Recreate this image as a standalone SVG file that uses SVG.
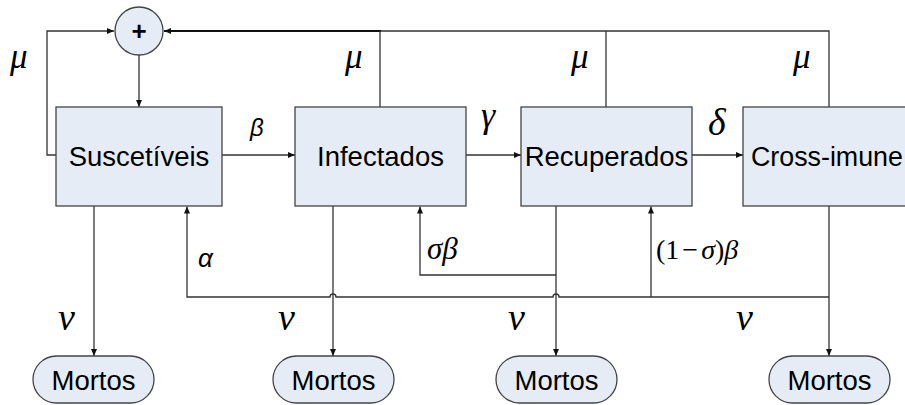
<svg xmlns="http://www.w3.org/2000/svg" width="905" height="405" viewBox="0 0 905 405">
<defs>
<marker id="ah" markerUnits="userSpaceOnUse" markerWidth="8" markerHeight="8" refX="7" refY="3" orient="auto">
<path d="M0,0 L7,3 L0,6 z" fill="#111"/>
</marker>
<style>
.box{fill:#E6ECF6;stroke:#444;stroke-width:1.3}
.lbl{font-family:"Liberation Sans",Arial,sans-serif;font-size:27.5px;fill:#000}
.mt{font-family:"Liberation Serif","Times New Roman",serif;font-style:italic;fill:#000}
.up{font-style:normal}
.sg{font-family:"Liberation Sans",Arial,sans-serif;font-style:italic;fill:#000}
.ln{fill:none;stroke:#333;stroke-width:1.3}
</style>
</defs>
<rect width="905" height="405" fill="#fff"/>
<g id="connectors">
<path class="ln" d="M56 155 H47 V31 H114" marker-end="url(#ah)"/>
<path class="ln" d="M139 55 V107" marker-end="url(#ah)"/>
<path class="ln" d="M829 107 V31 H380" />
<path fill="none" stroke="#111" stroke-width="2" d="M381 31 H164" marker-end="url(#ah)"/>
<path class="ln" d="M380 107 V31"/>
<path class="ln" d="M606 107 V31"/>
<path class="ln" d="M222 155 H295" marker-end="url(#ah)"/>
<path class="ln" d="M466 155 H521" marker-end="url(#ah)"/>
<path class="ln" d="M692 155 H743" marker-end="url(#ah)"/>
<path class="ln" d="M94 206 V356" marker-end="url(#ah)"/>
<path class="ln" d="M333 206 V356" marker-end="url(#ah)"/>
<path class="ln" d="M556 206 V356" marker-end="url(#ah)"/>
<path class="ln" d="M829 206 V356" marker-end="url(#ah)"/>
<path class="ln" d="M829 297 H559 A3 3 0 0 0 553 297 H336 A3 3 0 0 0 330 297 H187 V206.5" marker-end="url(#ah)"/>
<path class="ln" d="M651 297 V206.5" marker-end="url(#ah)"/>
<path class="ln" d="M556 275 H420 V206.5" marker-end="url(#ah)"/>
</g>
<g id="sum">
<circle cx="139" cy="31" r="24" class="box"/>
<text x="139" y="40" text-anchor="middle" font-family="Liberation Sans,Arial,sans-serif" font-weight="bold" font-size="26">+</text>
</g>
<g id="suscetiveis">
<rect x="56" y="107" width="166" height="99" class="box"/>
<text x="139" y="166" text-anchor="middle" class="lbl">Suscetíveis</text>
</g>
<g id="infectados">
<rect x="295" y="107" width="171" height="99" class="box"/>
<text x="380.5" y="166" text-anchor="middle" class="lbl">Infectados</text>
</g>
<g id="recuperados">
<rect x="521" y="107" width="171" height="99" class="box"/>
<text x="606.5" y="166" text-anchor="middle" class="lbl">Recuperados</text>
</g>
<g id="crossimune">
<rect x="743" y="107" width="175" height="99" class="box"/>
<text x="751" y="166" class="lbl" style="font-size:26.8px">Cross-imune</text>
</g>
<g id="mortos1">
<rect x="33" y="356" width="121" height="47" rx="23.5" class="box"/>
<text x="93.5" y="390" text-anchor="middle" class="lbl">Mortos</text>
</g>
<g id="mortos2">
<rect x="273" y="356" width="121" height="47" rx="23.5" class="box"/>
<text x="333.5" y="390" text-anchor="middle" class="lbl">Mortos</text>
</g>
<g id="mortos3">
<rect x="496" y="356" width="121" height="47" rx="23.5" class="box"/>
<text x="556.5" y="390" text-anchor="middle" class="lbl">Mortos</text>
</g>
<g id="mortos4">
<rect x="769" y="356" width="121" height="47" rx="23.5" class="box"/>
<text x="829.5" y="390" text-anchor="middle" class="lbl">Mortos</text>
</g>
<g id="labels">
<text x="10" y="68" class="mt" font-size="35">μ</text>
<text x="345" y="68" class="mt" font-size="35">μ</text>
<text x="571" y="68" class="mt" font-size="35">μ</text>
<text x="793" y="68" class="mt" font-size="35">μ</text>
<text x="250" y="136" class="sg" font-size="24">β</text>
<text x="481" y="127" class="mt" font-size="36">γ</text>
<text x="708" y="135" class="mt" font-size="38">δ</text>
<text x="198" y="267" class="sg" font-size="26">α</text>
<text x="427" y="259" class="mt" font-size="31">σβ</text>
<text x="656" y="259" class="mt" font-size="28"><tspan class="up">(1</tspan><tspan class="up" dx="3">−</tspan><tspan dx="3">σ</tspan><tspan class="up">)</tspan>β</text>
<text x="58" y="330" class="mt" font-size="38">v</text>
<text x="278" y="330" class="mt" font-size="38">v</text>
<text x="508" y="330" class="mt" font-size="38">v</text>
<text x="736" y="330" class="mt" font-size="38">v</text>
</g>
</svg>
